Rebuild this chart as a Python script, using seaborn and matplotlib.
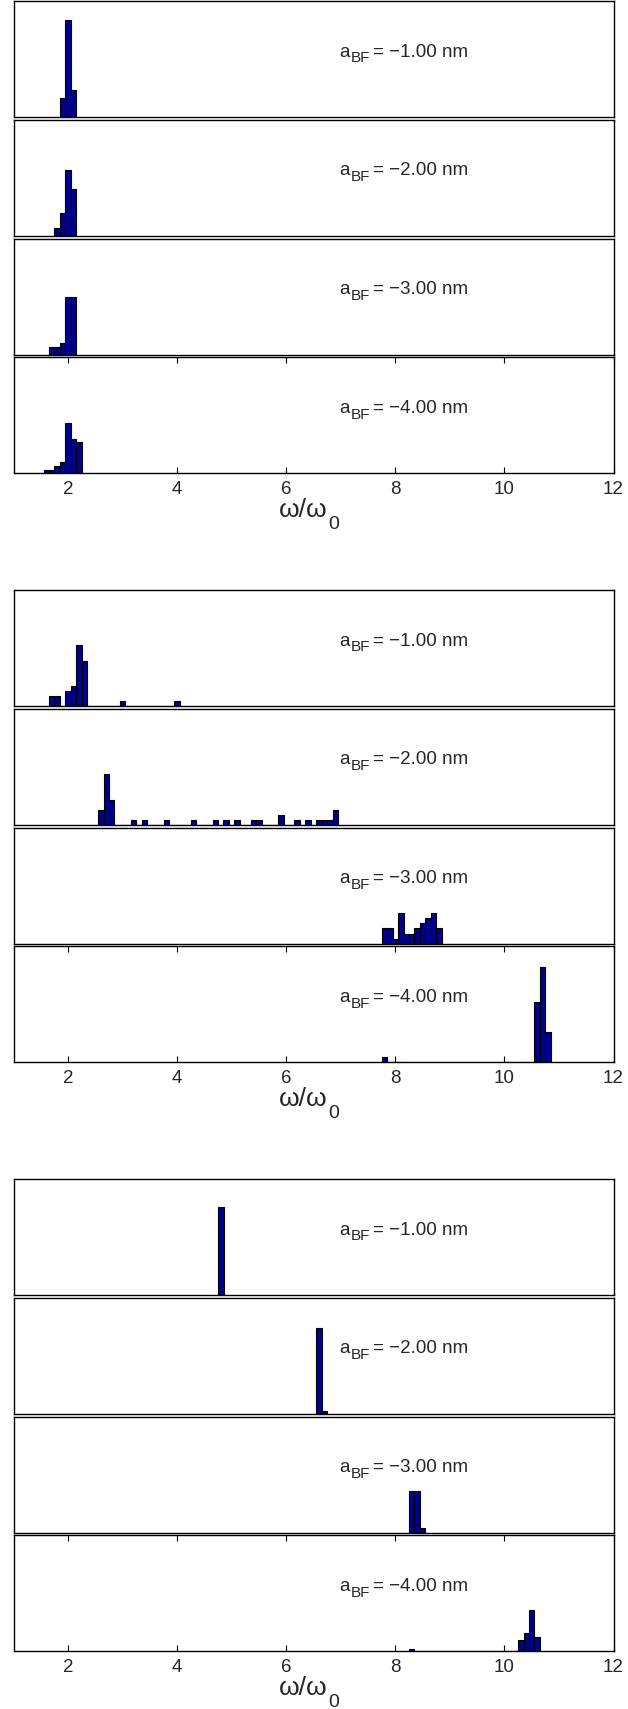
"""Stacked frequency histograms of omega/omega_0 for three runs, four a_BF values each."""

import matplotlib
matplotlib.use("Agg")
import matplotlib.pyplot as plt
from matplotlib.transforms import offset_copy
import numpy as np
import pandas as pd
import seaborn as sns

# bin centres (omega/omega_0) and counts, one list per panel
A_BF_LABELS = ["\u22121.00", "\u22122.00", "\u22123.00", "\u22124.00"]

# run 1
r1_p1_x = [1.9, 2.0, 2.1]
r1_p1_n = [5, 25, 7]
r1_p2_x = [1.8, 1.9, 2.0, 2.1]
r1_p2_n = [2, 6, 17, 12]
r1_p3_x = [1.7, 1.8, 1.9, 2.0, 2.1]
r1_p3_n = [2, 2, 3, 15, 15]
r1_p4_x = [1.6, 1.7, 1.8, 1.9, 2.0, 2.1, 2.2]
r1_p4_n = [1, 1, 2, 3, 13, 9, 8]

# run 2
r2_p1_x = [1.7, 1.8, 2.0, 2.1, 2.2, 2.3, 3.0, 4.0]
r2_p1_n = [2, 2, 3, 4, 12, 9, 1, 1]
r2_p2_x = [2.6, 2.7, 2.8, 3.2, 3.4, 3.8, 4.3, 4.7, 4.9, 5.1, 5.4, 5.5,
           5.9, 6.2, 6.4, 6.6, 6.7, 6.8, 6.9]
r2_p2_n = [3, 10, 5, 1, 1, 1, 1, 1, 1, 1, 1, 1,
           2, 1, 1, 1, 1, 1, 3]
r2_p3_x = [7.8, 7.9, 8.0, 8.1, 8.2, 8.3, 8.4, 8.5, 8.6, 8.7, 8.8]
r2_p3_n = [3, 3, 1, 6, 2, 2, 3, 4, 5, 6, 3]
r2_p4_x = [7.8, 10.6, 10.7, 10.8]
r2_p4_n = [1, 12, 19, 6]

# run 3
r3_p1_x = [4.8]
r3_p1_n = [38]
r3_p2_x = [6.6, 6.7]
r3_p2_n = [37, 1]
r3_p3_x = [8.3, 8.4, 8.5]
r3_p3_n = [18, 18, 2]
r3_p4_x = [8.3, 10.3, 10.4, 10.5, 10.6]
r3_p4_n = [1, 5, 8, 18, 6]

RUNS = [
    [(r1_p1_x, r1_p1_n), (r1_p2_x, r1_p2_n), (r1_p3_x, r1_p3_n), (r1_p4_x, r1_p4_n)],
    [(r2_p1_x, r2_p1_n), (r2_p2_x, r2_p2_n), (r2_p3_x, r2_p3_n), (r2_p4_x, r2_p4_n)],
    [(r3_p1_x, r3_p1_n), (r3_p2_x, r3_p2_n), (r3_p3_x, r3_p3_n), (r3_p4_x, r3_p4_n)],
]
Y_MAX = [30, 23, 50]

BIN_W = 0.1
BAR_COLOR = "#00008F"

sns.set_style("white")
plt.rcParams["font.family"] = ["Liberation Sans", "DejaVu Sans"]

W, H = 628, 1709
fig = plt.figure(figsize=(W / 100, H / 100), dpi=100)

left_px, right_px = 13.5, 613.5
panel_h, panel_step, group_step, top0 = 116.0, 118.8, 589.0, 1.0


def px_text(ax, x, y, dx, dy, s, **kw):
    """Text at (x data, y axes) shifted by dx, dy pixels."""
    trans = offset_copy(ax.get_xaxis_transform(), fig=fig, x=dx, y=dy, units="dots")
    return ax.text(x, y, s, transform=trans, va="baseline", clip_on=False, **kw)


for g, run in enumerate(RUNS):
    for p, (xs, ns) in enumerate(run):
        top = top0 + group_step * g + panel_step * p
        ax = fig.add_axes([left_px / W, 1 - (top + panel_h) / H,
                           (right_px - left_px) / W, panel_h / H])
        df = pd.DataFrame({"omega": xs, "count": ns})
        lo = round(min(xs) - BIN_W / 2, 2)
        hi = round(max(xs) + BIN_W / 2, 2)
        nb = int(round((hi - lo) / BIN_W))
        edges = [float(e) for e in np.linspace(lo, hi, nb + 1)]
        sns.histplot(data=df, x="omega", weights="count", bins=edges, ax=ax,
                     color=BAR_COLOR, edgecolor="black", linewidth=0.8, alpha=1.0)
        ax.set_xlim(1, 12)
        ax.set_ylim(0, Y_MAX[g])
        ax.set_ylabel("")
        ax.set_yticks([])
        for s in ax.spines.values():
            s.set_visible(True)
            s.set_color("black")
            s.set_linewidth(1.0)

        # a_BF label: base, subscript, value
        px_text(ax, 6.98, 0.52, 0, 0, "a", fontsize=13.5)
        px_text(ax, 6.98, 0.52, 11.5, -5.5, "BF", fontsize=11)
        px_text(ax, 6.98, 0.52, 33, 0, "= " + A_BF_LABELS[p] + " nm", fontsize=13.5)

        if p == 3:
            ax.set_xticks(range(2, 13, 2))
            ax.tick_params(axis="x", direction="in", top=True, bottom=True,
                           length=4, width=0.8, labelsize=13.5, pad=5.5, color="black")
            ax.set_xlabel("")
            px_text(ax, 6.49, 0, 15, -44, "\u03c9/\u03c9", fontsize=19, ha="right")
            px_text(ax, 6.49, 0, 15.5, -56, "0", fontsize=14, ha="left")
        else:
            ax.set_xticks([])
            ax.set_xlabel("")

fig.savefig("out.png", dpi=100, facecolor="white")
plt.close(fig)
